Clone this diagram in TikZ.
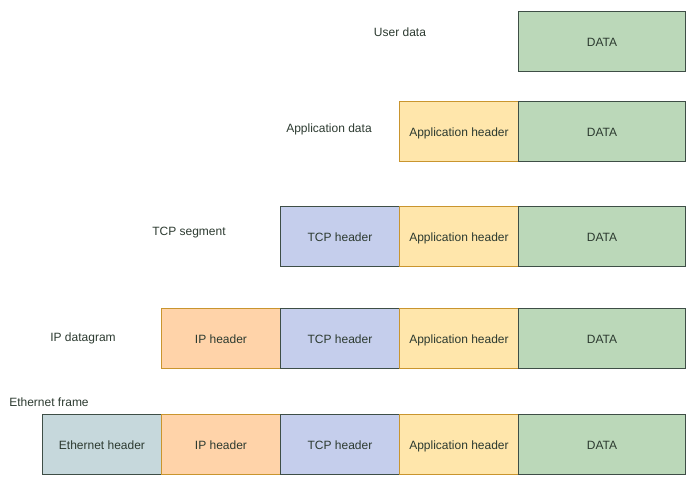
\documentclass[tikz,border=0pt]{standalone}
\usepackage{fontspec}
\setmainfont{Liberation Sans}
\usetikzlibrary{positioning}
\definecolor{datafill}{HTML}{BBD8B9}
\definecolor{appfill}{HTML}{FFE6AB}
\definecolor{tcpfill}{HTML}{C5CEEC}
\definecolor{ipfill}{HTML}{FFD3A9}
\definecolor{ethfill}{HTML}{C6D8DC}
\definecolor{darkline}{HTML}{3E4E46}
\definecolor{goldline}{HTML}{C9952E}
\definecolor{txt}{HTML}{2C3A30}
\tikzset{
  hdr/.style={draw, line width=0.9pt, minimum width=119pt, minimum height=60pt,
    inner sep=0pt, anchor=north west, text=txt, font=\fontsize{12}{14}\selectfont,
    text height=10.6pt, text depth=0pt},
  databox/.style={hdr, fill=datafill, draw=darkline, minimum width=167pt},
  appbox/.style={hdr, fill=appfill, draw=goldline},
  tcpbox/.style={hdr, fill=tcpfill, draw=darkline},
  ipbox/.style={hdr, fill=ipfill, draw=goldline},
  ethbox/.style={hdr, fill=ethfill, draw=darkline},
  lbl/.style={text=txt, font=\fontsize{12}{14}\selectfont, inner sep=0pt,
    text height=10.6pt, text depth=0pt}
}
\begin{document}
\begin{tikzpicture}[x=1pt, y=-1pt]
  \useasboundingbox (0,0) rectangle (696,486);
  % user data
  \node[lbl] (l1) at (400,31) {User data};
  \node[databox] (d1) at (518,11) {DATA};
  % application data
  \node[lbl] (l2) at (329,127) {Application data};
  \node[appbox] (a2) at (399,101) {Application header};
  \node[databox] (d2) at (518,101) {DATA};
  % tcp segment
  \node[lbl] (l3) at (189,230) {TCP segment};
  \node[tcpbox] (t3) at (280,206) {TCP header};
  \node[appbox] (a3) at (399,206) {Application header};
  \node[databox] (d3) at (518,206) {DATA};
  % ip datagram
  \node[lbl] (l4) at (83,336) {IP datagram};
  \node[ipbox] (i4) at (161,308) {IP header};
  \node[tcpbox] (t4) at (280,308) {TCP header};
  \node[appbox] (a4) at (399,308) {Application header};
  \node[databox] (d4) at (518,308) {DATA};
  % ethernet frame
  \node[lbl] (l5) at (49,401) {Ethernet frame};
  \node[ethbox] (e5) at (42,414) {Ethernet header};
  \node[ipbox] (i5) at (161,414) {IP header};
  \node[tcpbox] (t5) at (280,414) {TCP header};
  \node[appbox] (a5) at (399,414) {Application header};
  \node[databox] (d5) at (518,414) {DATA};
\end{tikzpicture}
\end{document}
